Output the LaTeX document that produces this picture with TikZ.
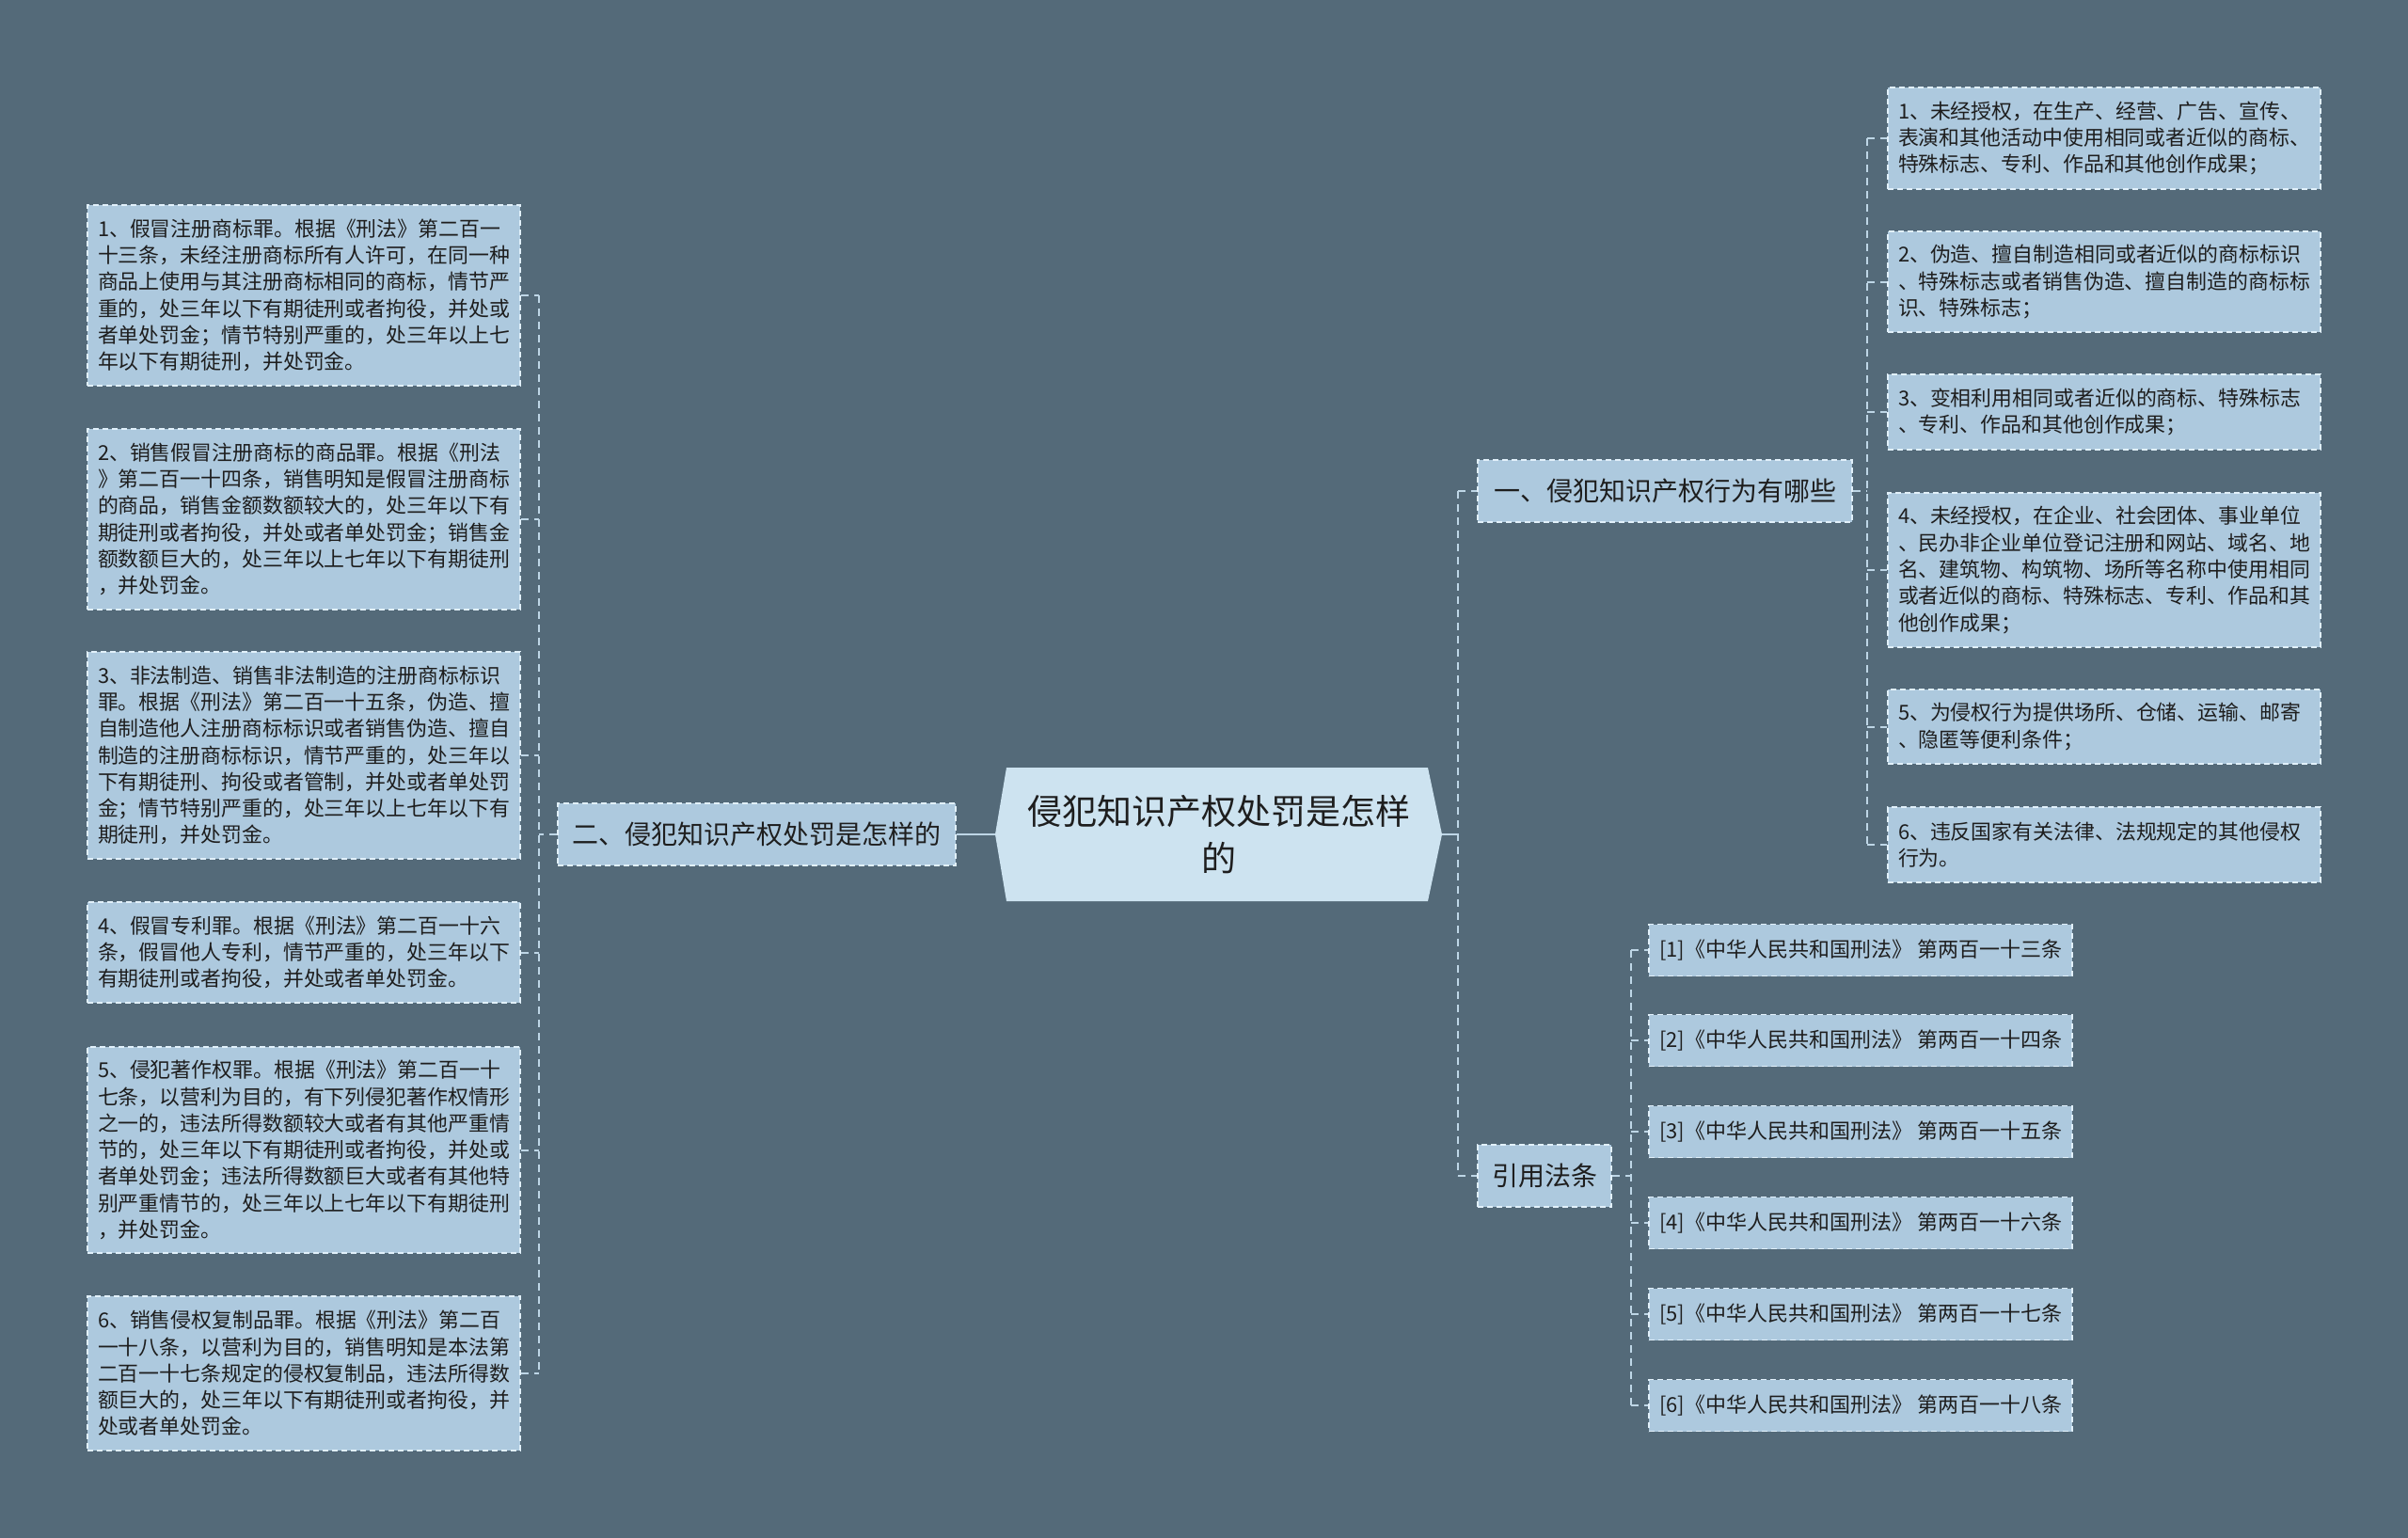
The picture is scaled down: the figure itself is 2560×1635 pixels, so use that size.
\documentclass[tikz,border=0pt]{standalone}
\usepackage{fontspec}
\newfontfamily\cjk{Noto Sans CJK SC}
\definecolor{bgc}{RGB}{84,106,121}
\definecolor{leaffill}{RGB}{173,201,222}
\definecolor{rootfill}{RGB}{205,227,240}
\definecolor{bordercol}{RGB}{225,240,250}
\definecolor{conncol}{RGB}{190,214,230}
\definecolor{txt}{RGB}{30,30,30}
\tikzset{
  boxbase/.style={draw=bordercol, fill=leaffill, line width=1.5pt, dash pattern=on 6pt off 4pt, text=txt},
  leaf/.style={boxbase, font=\cjk\fontsize{21.9pt}{28.3pt}\selectfont, align=left,
    inner xsep=11pt, inner ysep=3pt, text width=438pt, minimum height=#1},
  refbox/.style={boxbase, font=\cjk\fontsize{22pt}{26pt}\selectfont, minimum width=450pt, minimum height=55pt, inner sep=3pt},
  branch/.style={boxbase, font=\cjk\fontsize{28pt}{34pt}\selectfont, minimum height=66pt, inner sep=3pt},
  conn/.style={draw=conncol, line width=2pt, dash pattern=on 8pt off 6pt},
  solidconn/.style={draw=conncol, line width=2.5pt},
}
\begin{document}
\begin{tikzpicture}[x=1pt,y=-1pt]
\fill[bgc] (0,0) rectangle (2560,1635);
\useasboundingbox (0,0) rectangle (2560,1635);

% root
\fill[rootfill] (1058,887) -- (1070,816) -- (1518,816) -- (1533,887) -- (1518,958) -- (1070,958) -- cycle;
\node[minimum width=475pt, minimum height=142pt, inner sep=0pt, align=center, text=txt,
  font=\cjk\fontsize{37pt}{50pt}\selectfont] (root) at (1295.5,887) {侵犯知识产权处罚是怎样\\的};

% branches
\node[branch, minimum width=423pt] (b2) at (804.5,887) {二、侵犯知识产权处罚是怎样的};
\node[branch, minimum width=398pt] (b1) at (1770,522) {一、侵犯知识产权行为有哪些};
\node[branch, minimum width=142pt] (b3) at (1642,1250) {引用法条};

% left leaves
\node[leaf=192pt] (L1) at (323,314) {1、假冒注册商标罪。根据《刑法》第二百一\\十三条，未经注册商标所有人许可，在同一种\\商品上使用与其注册商标相同的商标，情节严\\重的，处三年以下有期徒刑或者拘役，并处或\\者单处罚金；情节特别严重的，处三年以上七\\年以下有期徒刑，并处罚金。};
\node[leaf=192pt] (L2) at (323,552) {2、销售假冒注册商标的商品罪。根据《刑法\\》第二百一十四条，销售明知是假冒注册商标\\的商品，销售金额数额较大的，处三年以下有\\期徒刑或者拘役，并处或者单处罚金；销售金\\额数额巨大的，处三年以上七年以下有期徒刑\\，并处罚金。};
\node[leaf=220pt] (L3) at (323,803) {3、非法制造、销售非法制造的注册商标标识\\罪。根据《刑法》第二百一十五条，伪造、擅\\自制造他人注册商标标识或者销售伪造、擅自\\制造的注册商标标识，情节严重的，处三年以\\下有期徒刑、拘役或者管制，并处或者单处罚\\金；情节特别严重的，处三年以上七年以下有\\期徒刑，并处罚金。};
\node[leaf=107pt] (L4) at (323,1012.5) {4、假冒专利罪。根据《刑法》第二百一十六\\条，假冒他人专利，情节严重的，处三年以下\\有期徒刑或者拘役，并处或者单处罚金。};
\node[leaf=219pt] (L5) at (323,1222.5) {5、侵犯著作权罪。根据《刑法》第二百一十\\七条，以营利为目的，有下列侵犯著作权情形\\之一的，违法所得数额较大或者有其他严重情\\节的，处三年以下有期徒刑或者拘役，并处或\\者单处罚金；违法所得数额巨大或者有其他特\\别严重情节的，处三年以上七年以下有期徒刑\\，并处罚金。};
\node[leaf=164pt] (L6) at (323,1460) {6、销售侵权复制品罪。根据《刑法》第二百\\一十八条，以营利为目的，销售明知是本法第\\二百一十七条规定的侵权复制品，违法所得数\\额巨大的，处三年以下有期徒刑或者拘役，并\\处或者单处罚金。};

% right leaves
\node[leaf=108pt] (R1) at (2237,147) {1、未经授权，在生产、经营、广告、宣传、\\表演和其他活动中使用相同或者近似的商标、\\特殊标志、专利、作品和其他创作成果；};
\node[leaf=107pt] (R2) at (2237,299.5) {2、伪造、擅自制造相同或者近似的商标标识\\、特殊标志或者销售伪造、擅自制造的商标标\\识、特殊标志；};
\node[leaf=80pt] (R3) at (2237,438) {3、变相利用相同或者近似的商标、特殊标志\\、专利、作品和其他创作成果；};
\node[leaf=164pt] (R4) at (2237,606) {4、未经授权，在企业、社会团体、事业单位\\、民办非企业单位登记注册和网站、域名、地\\名、建筑物、构筑物、场所等名称中使用相同\\或者近似的商标、特殊标志、专利、作品和其\\他创作成果；};
\node[leaf=79pt] (R5) at (2237,772.5) {5、为侵权行为提供场所、仓储、运输、邮寄\\、隐匿等便利条件；};
\node[leaf=80pt] (R6) at (2237,898) {6、违反国家有关法律、法规规定的其他侵权\\行为。};

% references
\node[refbox] (F1) at (1978,1010) {[1]《中华人民共和国刑法》 第两百一十三条};
\node[refbox] (F2) at (1978,1106) {[2]《中华人民共和国刑法》 第两百一十四条};
\node[refbox] (F3) at (1978,1203) {[3]《中华人民共和国刑法》 第两百一十五条};
\node[refbox] (F4) at (1978,1300) {[4]《中华人民共和国刑法》 第两百一十六条};
\node[refbox] (F5) at (1978,1397) {[5]《中华人民共和国刑法》 第两百一十七条};
\node[refbox] (F6) at (1978,1494) {[6]《中华人民共和国刑法》 第两百一十八条};

% junction coordinates
\coordinate (jl) at (573,887);
\coordinate (jc) at (1550,887);
\coordinate (jr) at (1985,522);
\coordinate (jf) at (1734,1250);

% root connectors
\draw[solidconn] (root.west) -- (b2.east);
\draw[solidconn] (root.east) -- (jc);
\draw[conn] (jc |- b1.west) -- (jc |- b3.west);
\draw[conn] (jc |- b1.west) -- (b1.west);
\draw[conn] (jc |- b3.west) -- (b3.west);

% left
\draw[conn] (b2.west) -- (jl);
\draw[conn] (jl |- L1.east) -- (jl |- L6.east);
\foreach \n in {L1,L2,L3,L4,L5,L6} { \draw[conn] (\n.east) -- (jl |- \n.east); }

% right behaviours
\draw[conn] (b1.east) -- (jr);
\draw[conn] (jr |- R1.west) -- (jr |- R6.west);
\foreach \n in {R1,R2,R3,R4,R5,R6} { \draw[conn] (jr |- \n.west) -- (\n.west); }

% references
\draw[conn] (b3.east) -- (jf);
\draw[conn] (jf |- F1.west) -- (jf |- F6.west);
\foreach \n in {F1,F2,F3,F4,F5,F6} { \draw[conn] (jf |- \n.west) -- (\n.west); }
\end{tikzpicture}
\end{document}
